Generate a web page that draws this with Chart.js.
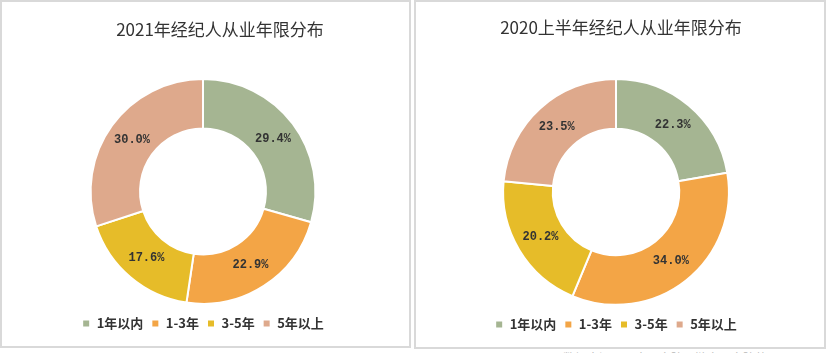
<!DOCTYPE html>
<html>
<head>
<meta charset="utf-8">
<script src="https://cdn.jsdelivr.net/npm/chart.js@4/dist/chart.umd.min.js"></script>
<style>
  body { margin: 0; background: #fff; width: 827px; height: 353px; overflow: hidden; position: relative; }
  .panel { position: absolute; top: 0; border: 2px solid #d9d9d9; box-sizing: border-box; background: #fff; }
  .panel canvas { position: absolute; left: 0; top: 0; }
  .title { position: absolute; font-family: "Noto Sans CJK SC", sans-serif; font-size: 17px; color: #333; white-space: nowrap; transform: translate(-50%, -50%); }
  .src { position: absolute; left: 563px; top: 349px; font-family: "Noto Sans CJK SC", sans-serif; font-size: 12px; color: #b8b8b8; white-space: nowrap; }
</style>
</head>
<body>
<div class="panel" id="p1" style="left:0; width:411px; height:348px;">
  <canvas id="chart2021" width="407" height="344"></canvas>
</div>
<div class="panel" id="p2" style="left:414px; width:412px; height:349px;">
  <canvas id="chart2020" width="408" height="345"></canvas>
</div>
<div class="title" style="left:220px; top:28px;">2021年经纪人从业年限分布</div>
<div class="title" style="left:621px; top:26px;">2020上半年经纪人从业年限分布</div>
<div class="src">数据来源：贝壳研究院，链家研究院整理</div>
<script>
var categories = ["1年以内", "1-3年", "3-5年", "5年以上"];
var values2021 = [29.4, 22.9, 17.6, 30.0];
var values2020 = [22.3, 34.0, 20.2, 23.5];
var sliceColors = ["#A5B592", "#F3A546", "#E6BC29", "#DEA98C"];

// draws the percentage in the middle of each ring slice
var sliceLabels = {
  id: 'sliceLabels',
  afterDatasetsDraw: function (chart) {
    var ctx = chart.ctx;
    var meta = chart.getDatasetMeta(0);
    var data = chart.data.datasets[0].data;
    ctx.save();
    ctx.font = 'bold 12px "Liberation Mono", monospace';
    ctx.fillStyle = '#333333';
    ctx.textAlign = 'center';
    ctx.textBaseline = 'middle';
    meta.data.forEach(function (arc, i) {
      var p = arc.tooltipPosition();
      ctx.fillText(data[i].toFixed(1) + '%', p.x, p.y);
    });
    ctx.restore();
  }
};

function makeDonut(id, values, padRight) {
  return new Chart(document.getElementById(id), {
    type: 'doughnut',
    data: {
      labels: categories,
      datasets: [{
        data: values,
        backgroundColor: sliceColors,
        borderColor: '#ffffff',
        borderWidth: 2
      }]
    },
    options: {
      responsive: false,
      animation: false,
      cutout: '56%',
      layout: { padding: { top: 76, bottom: 6, left: 0, right: padRight } },
      plugins: {
        title: { display: false },
        tooltip: { enabled: false },
        legend: {
          position: 'bottom',
          // empty legend title only adds a little gap above the items
          title: { display: true, text: ' ', font: { size: 1 }, padding: { top: 3, bottom: 0 } },
          labels: {
            boxWidth: 8,
            boxHeight: 8,
            padding: 8,
            color: '#333333',
            font: { family: '"Noto Sans CJK SC", sans-serif', size: 13, weight: 'bold' }
          }
        }
      }
    },
    plugins: [sliceLabels]
  });
}

makeDonut('chart2021', values2021, 5);
makeDonut('chart2020', values2020, 8);
</script>
</body>
</html>
